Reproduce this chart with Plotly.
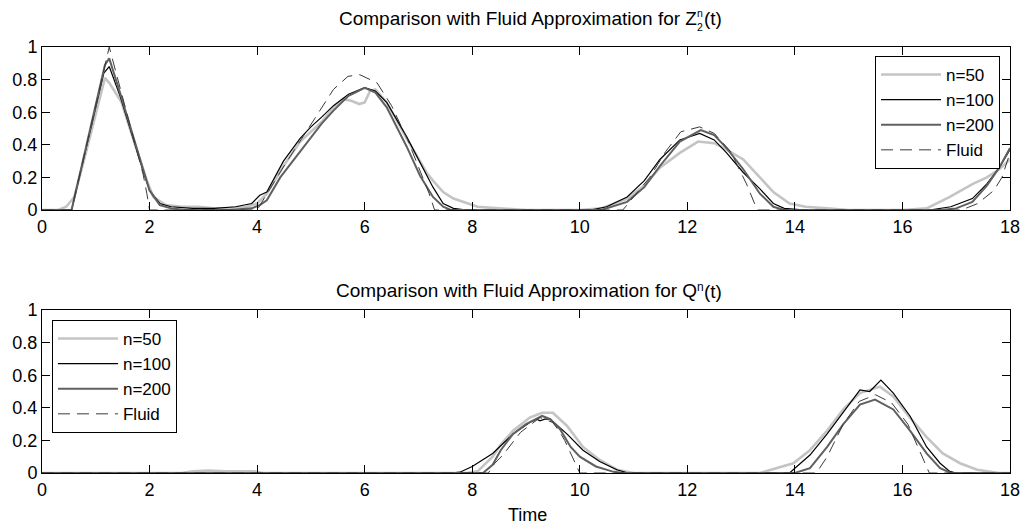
import plotly.graph_objects as go

# ---------------- data: top panel, Z_2^n(t) ----------------
z50_t = [0, 0.3, 0.45, 0.6, 0.8, 1.0, 1.17, 1.25, 1.48, 1.76, 1.95, 2.07, 2.3, 2.6, 2.9, 3.2, 3.5, 3.8, 4.0, 4.18,
         4.49, 4.8, 5.2, 5.42, 5.6, 5.75, 5.9, 6.0, 6.1, 6.2, 6.41, 6.78, 7.03, 7.15, 7.27, 7.46, 7.65, 7.83, 8.1, 8.5,
         9.0, 9.5, 10.0, 10.4, 10.88, 11.2, 11.49, 11.86, 12.2, 12.5, 12.73, 13.04, 13.35, 13.6, 13.9, 14.2, 14.6, 15.0,
         15.5, 16.0, 16.45, 16.88, 17.31, 17.57, 17.8, 18.0]
z50_v = [0, 0, 0.02, 0.08, 0.33, 0.58, 0.81, 0.78, 0.66, 0.37, 0.18, 0.08, 0.03, 0.02, 0.02, 0.01, 0.01, 0.02, 0.04, 0.1,
         0.27, 0.42, 0.54, 0.63, 0.68, 0.67, 0.65, 0.66, 0.73, 0.74, 0.66, 0.44, 0.3, 0.23, 0.18, 0.11, 0.07, 0.05, 0.02, 0.01,
         0, 0, 0, 0.01, 0.07, 0.15, 0.26, 0.35, 0.42, 0.41, 0.37, 0.31, 0.2, 0.11, 0.04, 0.02, 0.01, 0,
         0, 0, 0.01, 0.08, 0.16, 0.2, 0.25, 0.31]

z100_t = [0, 0.55, 1.15, 1.25, 1.45, 1.69, 1.88, 2.0, 2.19, 2.4, 2.8, 3.2, 3.6, 3.9, 4.05, 4.18, 4.49, 4.8, 5.0, 5.2, 5.42,
          5.7, 6.0, 6.2, 6.41, 6.78, 7.03, 7.27, 7.46, 7.65, 7.9, 8.5, 9.5, 10.2, 10.5, 10.88, 11.2, 11.49, 11.86, 12.23, 12.5,
          12.73, 13.04, 13.35, 13.6, 13.8, 14.2, 15.0, 16.0, 16.5, 16.9, 17.3, 17.57, 17.8, 18.0]
z100_v = [0, 0, 0.84, 0.88, 0.7, 0.44, 0.24, 0.12, 0.04, 0.02, 0.01, 0.01, 0.02, 0.04, 0.09, 0.11, 0.3, 0.44, 0.51, 0.57, 0.64,
          0.71, 0.75, 0.73, 0.66, 0.45, 0.29, 0.14, 0.04, 0.01, 0, 0, 0, 0, 0.02, 0.08, 0.18, 0.31, 0.43, 0.47, 0.43,
          0.35, 0.23, 0.13, 0.04, 0.01, 0, 0, 0, 0, 0.02, 0.07, 0.16, 0.26, 0.37]

z200_t = [0, 0.55, 1.17, 1.25, 1.45, 1.69, 1.88, 2.0, 2.19, 2.4, 2.7, 3.5, 3.9, 4.05, 4.18, 4.43, 4.8, 5.2, 5.42, 5.7,
          6.0, 6.2, 6.41, 6.78, 7.03, 7.27, 7.46, 7.6, 8.0, 9.5, 10.4, 10.88, 11.2, 11.49, 11.86, 12.25, 12.5, 12.73, 13.04, 13.35,
          13.6, 13.8, 14.5, 16.0, 16.7, 17.0, 17.3, 17.57, 17.8, 18.0]
z200_v = [0, 0, 0.89, 0.93, 0.72, 0.45, 0.25, 0.12, 0.03, 0.01, 0, 0, 0.01, 0.03, 0.06, 0.2, 0.36, 0.53, 0.61, 0.7,
          0.75, 0.72, 0.63, 0.39, 0.21, 0.08, 0.02, 0, 0, 0, 0, 0.05, 0.14, 0.27, 0.42, 0.49, 0.46, 0.38, 0.25, 0.1,
          0.02, 0, 0, 0, 0, 0.01, 0.05, 0.15, 0.26, 0.38]

zf_t = [0, 0.55, 1.25, 1.88, 1.95, 2.0, 4.0, 4.5, 5.07, 5.42, 5.69, 5.91, 6.23, 6.5, 6.8, 7.05, 7.2, 7.3, 10.8, 10.9,
        11.3, 11.6, 11.88, 12.23, 12.5, 12.8, 13.1, 13.3, 17.1, 17.4, 17.7, 17.85, 18.0]
zf_v = [0, 0, 1.0, 0.22, 0.1, 0, 0, 0.27, 0.56, 0.74, 0.82, 0.83, 0.78, 0.64, 0.43, 0.22, 0.1, 0, 0, 0.04,
        0.2, 0.36, 0.48, 0.51, 0.47, 0.36, 0.16, 0, 0, 0.04, 0.12, 0.2, 0.35]

# ---------------- data: bottom panel, Q^n(t) ----------------
q50_t = [0, 2.6, 2.8, 3.1, 3.4, 3.7, 3.95, 4.1, 7.9, 8.1, 8.38, 8.52, 8.76, 9.07, 9.3, 9.5, 9.76, 10.06, 10.37, 10.69, 11.0,
         13.0, 13.35, 13.97, 14.28, 14.6, 14.9, 15.21, 15.58, 15.83, 16.14, 16.45, 16.75, 17.07, 17.39, 17.8, 18.0]
q50_v = [0, 0, 0.01, 0.015, 0.01, 0.01, 0.01, 0, 0, 0.01, 0.1, 0.17, 0.26, 0.34, 0.37, 0.37, 0.29, 0.16, 0.08, 0.02, 0,
         0, 0, 0.06, 0.14, 0.26, 0.39, 0.49, 0.53, 0.47, 0.34, 0.22, 0.12, 0.06, 0.02, 0, 0]

q100_t = [0, 7.6, 7.77, 8.0, 8.38, 8.76, 9.07, 9.2, 9.26, 9.35, 9.45, 9.76, 10.06, 10.37, 10.69, 10.9,
          13.9, 14.28, 14.6, 14.9, 15.21, 15.39, 15.6, 15.83, 16.14, 16.45, 16.7, 16.88, 17.0, 18.0]
q100_v = [0, 0, 0.005, 0.04, 0.12, 0.24, 0.31, 0.33, 0.32, 0.33, 0.33, 0.24, 0.14, 0.07, 0.02, 0,
          0, 0.11, 0.24, 0.37, 0.51, 0.5, 0.57, 0.49, 0.35, 0.16, 0.06, 0.01, 0, 0]

q200_t = [0, 8.2, 8.38, 8.53, 8.76, 9.0, 9.3, 9.45, 9.63, 9.83, 10.0, 10.3, 10.6, 10.8,
          14.0, 14.28, 14.6, 14.9, 15.21, 15.49, 15.83, 16.14, 16.45, 16.7, 16.9, 18.0]
q200_v = [0, 0, 0.05, 0.14, 0.24, 0.3, 0.35, 0.33, 0.27, 0.16, 0.1, 0.04, 0.01, 0,
          0, 0.03, 0.16, 0.3, 0.42, 0.45, 0.39, 0.26, 0.12, 0.03, 0, 0]

qf_t = [0, 8.3, 8.42, 8.57, 8.9, 9.26, 9.5, 9.63, 9.72, 9.8, 10.0, 14.4, 14.6, 14.9, 15.2, 15.5, 15.8, 16.1, 16.3, 16.5, 18.0]
qf_v = [0, 0, 0.06, 0.11, 0.25, 0.34, 0.31, 0.25, 0.2, 0.14, 0, 0, 0.1, 0.3, 0.44, 0.48, 0.43, 0.3, 0.15, 0, 0]

series_names = ["n=50", "n=100", "n=200", "Fluid"]
x_ticks = [0, 2, 4, 6, 8, 10, 12, 14, 16, 18]
y_ticks = [0, 0.2, 0.4, 0.6, 0.8, 1]
y_ticklabels = ["0", "0.2", "0.4", "0.6", "0.8", "1"]

FONT = "Liberation Sans, Arial, Helvetica, sans-serif"
styles = [
    dict(color="#c4c4c4", width=2.6),
    dict(color="#000000", width=1.2),
    dict(color="#606060", width=2.0),
    dict(color="#3a3a3a", width=1.0, dash="12px,7px"),
]

fig = go.Figure()
top = [(z50_t, z50_v), (z100_t, z100_v), (z200_t, z200_v), (zf_t, zf_v)]
bot = [(q50_t, q50_v), (q100_t, q100_v), (q200_t, q200_v), (qf_t, qf_v)]
for (t, v), name, st in zip(top, series_names, styles):
    fig.add_trace(go.Scatter(x=t, y=v, mode="lines", name=name, line=st,
                             xaxis="x", yaxis="y", legend="legend"))
for (t, v), name, st in zip(bot, series_names, styles):
    fig.add_trace(go.Scatter(x=t, y=v, mode="lines", name=name, line=st,
                             xaxis="x2", yaxis="y2", legend="legend2"))

ax = dict(showline=True, linecolor="black", linewidth=1, mirror="ticks", ticks="inside",
          ticklen=8, tickcolor="black", tickwidth=1, showgrid=False, zeroline=False, automargin=False,
          tickfont=dict(family=FONT, size=18, color="black"))

H_TOP = 1 - 163 / 426
fig.update_layout(
    width=1025, height=527,
    margin=dict(l=42, r=15, t=47, b=54, autoexpand=False),
    paper_bgcolor="white", plot_bgcolor="white",
    showlegend=True,
    xaxis=dict(ax, range=[0, 18], tickvals=x_ticks, anchor="y"),
    yaxis=dict(ax, range=[0, 1], tickvals=y_ticks, ticktext=y_ticklabels, domain=[H_TOP, 1], anchor="x"),
    xaxis2=dict(ax, range=[0, 18], tickvals=x_ticks, anchor="y2"),
    yaxis2=dict(ax, range=[0, 1], tickvals=y_ticks, ticktext=y_ticklabels, domain=[0, 163 / 426], anchor="x2"),
    legend=dict(x=0.9897, y=0.9789, xanchor="right", yanchor="top", bgcolor="white",
                bordercolor="black", borderwidth=1, font=dict(family=FONT, size=17, color="black"),
                itemwidth=60, tracegroupgap=0),
    legend2=dict(x=0.0103, y=0.3592, xanchor="left", yanchor="top", bgcolor="white",
                 bordercolor="black", borderwidth=1, font=dict(family=FONT, size=17, color="black"),
                 itemwidth=60, tracegroupgap=0),
)

def px_x(p):
    return (p - 42) / 968

def px_y(p):
    return 1 + (47 - p) / 426

def ann(text, x, y, size, xanchor):
    fig.add_annotation(text=text, x=px_x(x), y=px_y(y), xref="paper", yref="paper",
                       xanchor=xanchor, yanchor="middle", showarrow=False,
                       borderpad=0, borderwidth=0,
                       font=dict(family=FONT, size=size, color="black"))

# top title: Z with stacked superscript n and subscript 2
ann("Comparison with Fluid Approximation for Z", 697, 18, 19, "right")
ann("n<br>2", 697, 20, 10.5, "left")
ann("(t)", 704, 19, 19, "left")

# bottom title: Q with superscript n
ann("Comparison with Fluid Approximation for Q", 697, 290, 19, "right")
ann("n", 697, 287, 12, "left")
ann("(t)", 704, 291, 19, "left")

ann("Time", 527, 515, 18, "center")

# remove the browser's default 8px page margin so the figure fills the window
fig.write_html("out.html", config={"displayModeBar": False},
               post_script="document.body.style.margin='0';")
